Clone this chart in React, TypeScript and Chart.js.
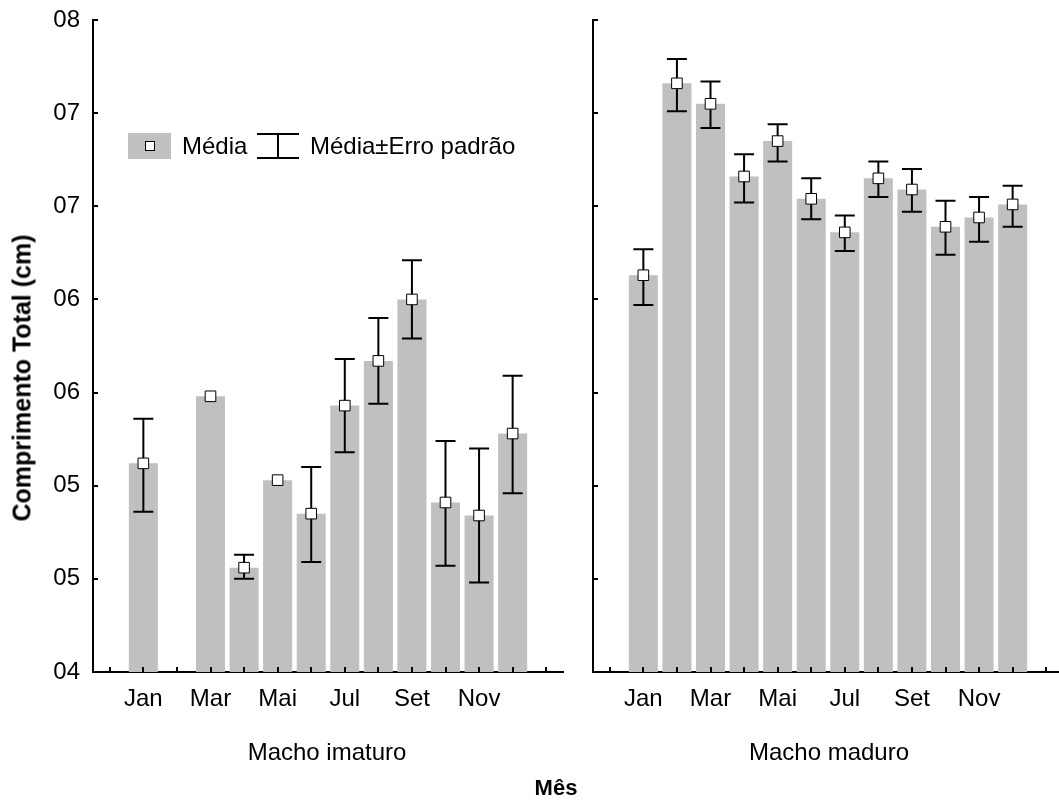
import { useEffect, useRef } from 'react';
import { Chart, registerables } from 'chart.js';
Chart.register(...registerables);

const FONT = "'Liberation Sans', Arial, Helvetica, sans-serif";

// Categories (first and last are empty padding slots on the axis)
const months = ['Jan', 'Fev', 'Mar', 'Abr', 'Mai', 'Jun', 'Jul', 'Ago', 'Set', 'Out', 'Nov', 'Dez'];
const shownMonths = ['Jan', 'Mar', 'Mai', 'Jul', 'Set', 'Nov'];
const xLabels = ['', ...months, ''];

// Y axis ticks (values in mm, shown with the original odd formatting)
const yTickValues = [40, 45, 50, 55, 60, 65, 70, 75];
const yTickLabels = ['04', '05', '05', '06', '06', '07', '07', '08'];

// Macho imaturo
const imaturoMean = [51.2, null, 54.8, 45.6, 50.3, 48.5, 54.3, 56.7, 60.0, 49.1, 48.4, 52.8];
const imaturoUpper = [53.6, null, null, 46.3, null, 51.0, 56.8, 59.0, 62.1, 52.4, 52.0, 55.9];
const imaturoLower = [48.6, null, null, 45.0, null, 45.9, 51.8, 54.4, 57.9, 45.7, 44.8, 49.6];

// Macho maduro
const maduroMean = [61.3, 71.6, 70.5, 66.6, 68.5, 65.4, 63.6, 66.5, 65.9, 63.9, 64.4, 65.1];
const maduroUpper = [62.7, 72.9, 71.7, 67.8, 69.4, 66.5, 64.5, 67.4, 67.0, 65.3, 65.5, 66.1];
const maduroLower = [59.7, 70.1, 69.2, 65.2, 67.4, 64.3, 62.6, 65.5, 64.7, 62.4, 63.1, 63.9];

const BAR_COLOR = '#c0c0c0';

function pad(arr: (number | null)[]) {
  return [null, ...arr, null];
}

function makeChart(
  canvas: HTMLCanvasElement,
  mean: (number | null)[],
  upper: (number | null)[],
  lower: (number | null)[],
  showYLabels: boolean,
  yWidth: number,
  drawLegend: boolean
) {
  const errorBarPlugin = {
    id: 'errorBars',
    afterDatasetDraw(chart: any, args: any) {
      if (args.meta.type !== 'bar') return;
      const ctx = chart.ctx;
      const xs = chart.scales.x;
      const ys = chart.scales.y;
      ctx.save();
      ctx.strokeStyle = '#000';
      ctx.lineWidth = 2;
      for (let i = 0; i < mean.length; i++) {
        const u = upper[i];
        const l = lower[i];
        if (u == null || l == null) continue;
        const x = xs.getPixelForValue(i + 1);
        const yu = ys.getPixelForValue(u);
        const yl = ys.getPixelForValue(l);
        ctx.beginPath();
        ctx.moveTo(x, yu);
        ctx.lineTo(x, yl);
        ctx.moveTo(x - 10, yu);
        ctx.lineTo(x + 10, yu);
        ctx.moveTo(x - 10, yl);
        ctx.lineTo(x + 10, yl);
        ctx.stroke();
      }
      ctx.restore();
    },
  };

  const innerTicksPlugin = {
    id: 'innerTicks',
    afterDraw(chart: any) {
      const ctx = chart.ctx;
      const xs = chart.scales.x;
      const ys = chart.scales.y;
      const area = chart.chartArea;
      ctx.save();
      ctx.strokeStyle = '#000';
      ctx.lineWidth = 2;
      ctx.beginPath();
      for (const v of yTickValues) {
        const y = Math.round(ys.getPixelForValue(v));
        ctx.moveTo(area.left, y);
        ctx.lineTo(area.left + 5, y);
      }
      for (let i = 0; i < xLabels.length; i++) {
        const x = Math.round(xs.getPixelForValue(i));
        ctx.moveTo(x, area.bottom);
        ctx.lineTo(x, area.bottom - 5);
      }
      ctx.stroke();

      if (drawLegend) {
        ctx.fillStyle = BAR_COLOR;
        ctx.fillRect(128, 133, 43, 26);
        ctx.fillStyle = '#fff';
        ctx.fillRect(145, 142, 9, 9);
        ctx.lineWidth = 1;
        ctx.strokeRect(145.5, 141.5, 9, 9);
        ctx.fillStyle = '#000';
        ctx.font = `24px ${FONT}`;
        ctx.textBaseline = 'middle';
        ctx.textAlign = 'left';
        ctx.fillText('Média', 182, 147);
        ctx.lineWidth = 2;
        ctx.beginPath();
        ctx.moveTo(257, 134);
        ctx.lineTo(299, 134);
        ctx.moveTo(257, 158);
        ctx.lineTo(299, 158);
        ctx.moveTo(278, 134);
        ctx.lineTo(278, 158);
        ctx.stroke();
        ctx.fillText('Média±Erro padrão', 310, 147);
      }
      ctx.restore();
    },
  };

  return new Chart(canvas, {
    type: 'bar',
    data: {
      labels: xLabels,
      datasets: [
        {
          type: 'line',
          label: 'Média',
          data: pad(mean),
          showLine: false,
          pointStyle: 'rect',
          pointRadius: 7.5,
          pointHoverRadius: 7.5,
          pointBackgroundColor: '#fff',
          pointBorderColor: '#000',
          pointBorderWidth: 1,
          order: 0,
        } as any,
        {
          type: 'bar',
          label: 'Barras',
          data: pad(mean),
          backgroundColor: BAR_COLOR,
          borderWidth: 0,
          barPercentage: 0.865,
          categoryPercentage: 1,
          order: 1,
        } as any,
      ],
    },
    options: {
      animation: false,
      responsive: false,
      devicePixelRatio: 1,
      layout: { padding: { top: 20, right: 17, left: 0, bottom: 0 } },
      plugins: { legend: { display: false }, tooltip: { enabled: false } },
      events: [],
      scales: {
        x: {
          type: 'category',
          offset: true,
          grid: { display: false, drawTicks: false },
          border: { display: true, color: '#000', width: 2 },
          ticks: {
            autoSkip: false,
            maxRotation: 0,
            minRotation: 0,
            padding: 13,
            color: '#000',
            font: { size: 24, family: FONT },
            callback: (_v: any, index: number) => {
              const l = xLabels[index];
              return shownMonths.includes(l) ? l : '';
            },
          },
          afterFit: (s: any) => {
            s.height = 130;
            s.paddingLeft = 0;
            s.paddingRight = 0;
          },
        },
        y: {
          type: 'linear',
          min: 40,
          max: 75,
          afterBuildTicks: (s: any) => {
            s.ticks = yTickValues.map((v) => ({ value: v }));
          },
          grid: { display: false, drawTicks: false },
          border: { display: true, color: '#000', width: 2 },
          ticks: {
            display: showYLabels,
            padding: 13,
            color: '#000',
            font: { size: 24, family: FONT },
            callback: (v: any) => {
              const i = yTickValues.indexOf(Number(v));
              return i >= 0 ? yTickLabels[i] : '';
            },
          },
          afterFit: (s: any) => {
            s.width = yWidth;
            s.paddingTop = 0;
            s.paddingBottom = 0;
          },
        },
      },
    } as any,
    plugins: [errorBarPlugin, innerTicksPlugin],
  });
}

export default function App() {
  const refA = useRef<HTMLCanvasElement | null>(null);
  const refB = useRef<HTMLCanvasElement | null>(null);

  useEffect(() => {
    Chart.defaults.font.family = FONT;
    Chart.defaults.color = '#000';
    const a = makeChart(refA.current!, imaturoMean, imaturoUpper, imaturoLower, true, 93, true);
    const b = makeChart(refB.current!, maduroMean, maduroUpper, maduroLower, false, 13, false);
    return () => {
      a.destroy();
      b.destroy();
    };
  }, []);

  const textStyle: any = {
    position: 'absolute',
    transform: 'translate(-50%, -50%)',
    whiteSpace: 'nowrap',
    fontFamily: FONT,
    color: '#000',
    lineHeight: 1,
  };

  return (
    <div
      style={{
        position: 'fixed',
        left: 0,
        top: 0,
        width: 1059,
        height: 802,
        overflow: 'hidden',
        background: '#fff',
      }}
    >
      <canvas ref={refA} width={580} height={802} style={{ position: 'absolute', left: 0, top: 0, width: 580, height: 802 }} />
      <canvas ref={refB} width={500} height={802} style={{ position: 'absolute', left: 580, top: 0, width: 500, height: 802 }} />
      <div
        style={{
          ...textStyle,
          left: 22,
          top: 378,
          fontSize: 25,
          fontWeight: 'bold',
          transform: 'translate(-50%, -50%) rotate(-90deg)',
        }}
      >
        Comprimento Total (cm)
      </div>
      <div style={{ ...textStyle, left: 327, top: 752, fontSize: 24 }}>Macho imaturo</div>
      <div style={{ ...textStyle, left: 829, top: 752, fontSize: 24 }}>Macho maduro</div>
      <div style={{ ...textStyle, left: 556, top: 788, fontSize: 22, fontWeight: 'bold' }}>Mês</div>
    </div>
  );
}
